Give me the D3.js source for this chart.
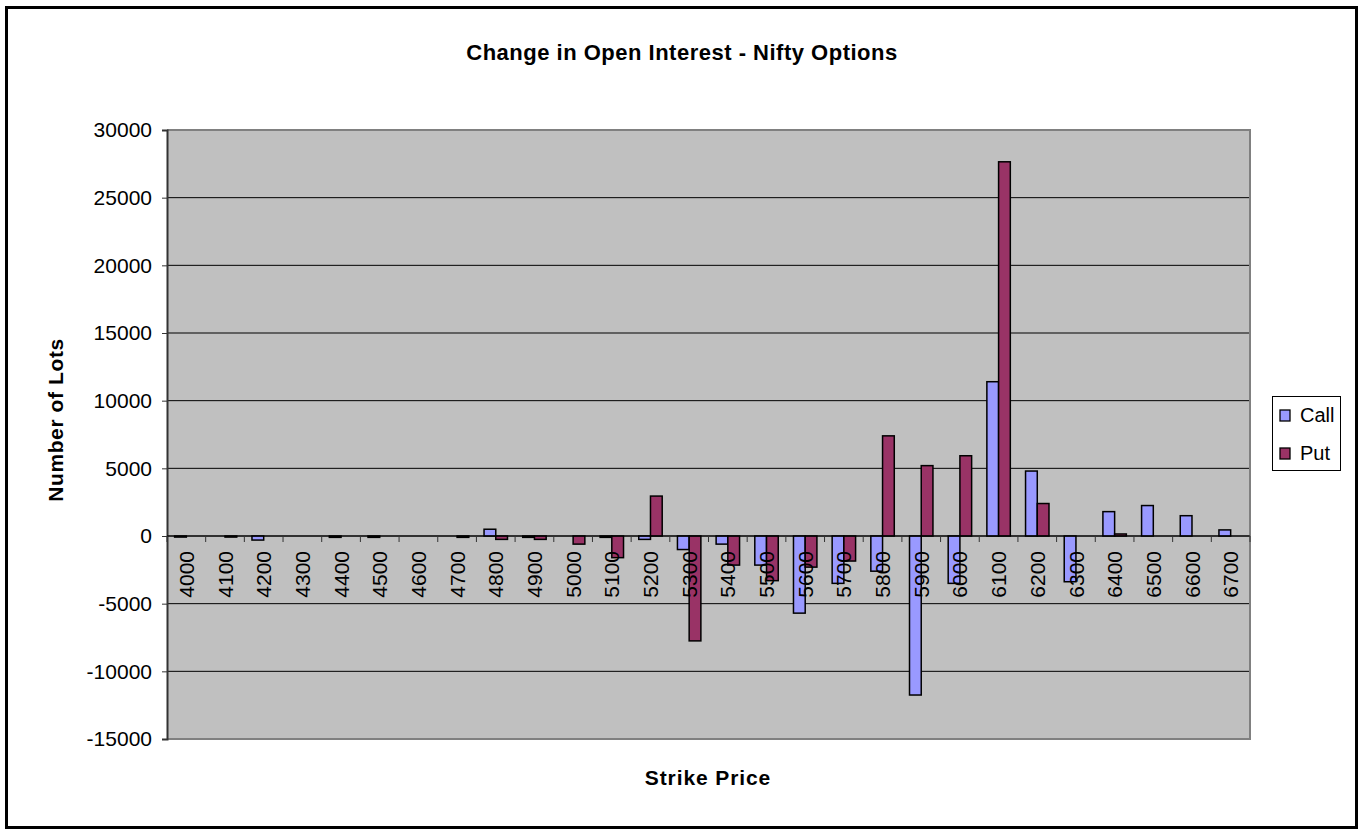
<!DOCTYPE html>
<html>
<head>
<meta charset="utf-8">
<script src="https://cdn.jsdelivr.net/npm/d3@7"></script>
<style>
  body { margin: 0; background: #fff; }
  svg { display: block; font-family: "Liberation Sans", Arial, sans-serif; }
</style>
</head>
<body>
<svg id="chart" width="1361" height="831"></svg>
<script>
// Strike prices (categories)
const strikes = [4000, 4100, 4200, 4300, 4400, 4500, 4600, 4700, 4800, 4900,
  5000, 5100, 5200, 5300, 5400, 5500, 5600, 5700, 5800, 5900,
  6000, 6100, 6200, 6300, 6400, 6500, 6600, 6700]

// Change in OI, number of lots
const callValues = [-80, 0, -300, 0, -100, -100, 0, 0, 500, -100,
  0, -100, -250, -1000, -600, -2150, -5700, -3500, -2600, -11750,
  -3500, 11400, 4800, -3380, 1800, 2250, 1500, 450]
const putValues = [0, -80, 0, 0, 0, 0, 0, -100, -250, -250,
  -600, -1600, 2950, -7750, -2150, -3300, -2300, -1850, 7400, 5200,
  5930, 27650, 2400, 0, 150, 0, 0, 0]

const seriesNames = ['Call', 'Put']
const yTicks = [-15000, -10000, -5000, 0, 5000, 10000, 15000, 20000, 25000, 30000]

const colors = { Call: '#9999FF', Put: '#993366' }

const svg = d3.select('#chart')

// outer chart frame
svg.append('rect')
  .attr('x', 6.5).attr('y', 7.5)
  .attr('width', 1350).attr('height', 820)
  .attr('fill', '#fff')
  .attr('stroke', '#000')
  .attr('stroke-width', 3)

const plot = { left: 167, right: 1250, top: 130, bottom: 739 }

const x = d3.scaleBand()
  .domain(strikes)
  .range([plot.left, plot.right])
  .padding(0)

const xSub = d3.scaleBand()
  .domain(seriesNames)
  .range([0, x.bandwidth()])
  .paddingInner(0)
  .paddingOuter(0.65)

const y = d3.scaleLinear()
  .domain([-15000, 30000])
  .range([plot.bottom, plot.top])

// plot area background
svg.append('rect')
  .attr('x', plot.left).attr('y', plot.top)
  .attr('width', plot.right - plot.left)
  .attr('height', plot.bottom - plot.top)
  .attr('fill', '#C0C0C0')

// gridlines
svg.append('g')
  .selectAll('line')
  .data(yTicks.filter(d => d !== -15000 && d !== 30000))
  .enter()
  .append('line')
  .attr('x1', plot.left).attr('x2', plot.right)
  .attr('y1', d => y(d)).attr('y2', d => y(d))
  .attr('stroke', '#000')
  .attr('stroke-width', 1)

// plot border (top/right/bottom grey)
svg.append('path')
  .attr('d', `M${plot.left},${plot.top}H${plot.right}V${plot.bottom}H${plot.left}`)
  .attr('fill', 'none')
  .attr('stroke', '#808080')
  .attr('stroke-width', 2)

// bars
const rows = strikes.map((s, i) => ({ strike: s, Call: callValues[i], Put: putValues[i] }))

const groups = svg.append('g')
  .selectAll('g')
  .data(rows)
  .enter()
  .append('g')
  .attr('transform', d => `translate(${x(d.strike)},0)`)

groups.selectAll('rect')
  .data(d => seriesNames.map(k => ({ key: k, value: d[k] })).filter(e => e.value !== 0))
  .enter()
  .append('rect')
  .attr('x', d => xSub(d.key))
  .attr('width', xSub.bandwidth())
  .attr('y', d => Math.min(y(d.value), y(0)))
  .attr('height', d => Math.abs(y(d.value) - y(0)))
  .attr('fill', d => colors[d.key])
  .attr('stroke', '#000')
  .attr('stroke-width', 1.5)

// y axis
const yAxis = d3.axisLeft(y)
  .tickValues(yTicks)
  .tickSize(5)
  .tickPadding(10)
  .tickFormat(d => String(d))

const yAxisG = svg.append('g')
  .attr('transform', `translate(${plot.left},0)`)
  .call(yAxis)
yAxisG.select('.domain').attr('stroke', '#333').attr('stroke-width', 2)
yAxisG.selectAll('.tick line').attr('stroke', '#333')
yAxisG.selectAll('.tick text')
  .attr('font-family', '"Liberation Sans", Arial, sans-serif')
  .attr('font-size', 21)
  .attr('fill', '#000')

// x axis along zero line
const zeroY = y(0)
svg.append('line')
  .attr('x1', plot.left).attr('x2', plot.right)
  .attr('y1', zeroY).attr('y2', zeroY)
  .attr('stroke', '#000')
  .attr('stroke-width', 1.2)

const boundaries = strikes.map(s => x(s)).concat([plot.right])
svg.append('g')
  .selectAll('line')
  .data(boundaries)
  .enter()
  .append('line')
  .attr('x1', d => d).attr('x2', d => d)
  .attr('y1', zeroY).attr('y2', zeroY + 6)
  .attr('stroke', '#333')
  .attr('stroke-width', 1)

svg.append('g')
  .selectAll('text')
  .data(strikes)
  .enter()
  .append('text')
  .attr('transform', d => `translate(${x(d) + x.bandwidth() / 2},${zeroY + 15}) rotate(-90)`)
  .attr('text-anchor', 'end')
  .attr('dy', '0.36em')
  .attr('font-size', 21)
  .attr('fill', '#000')
  .text(d => d)

// titles
svg.append('text')
  .attr('x', 682).attr('y', 60)
  .attr('text-anchor', 'middle')
  .attr('font-size', 22)
  .attr('font-weight', 'bold')
  .attr('letter-spacing', 0.5)
  .text('Change in Open Interest - Nifty Options')

svg.append('text')
  .attr('x', 708).attr('y', 785)
  .attr('text-anchor', 'middle')
  .attr('font-size', 21)
  .attr('font-weight', 'bold')
  .attr('letter-spacing', 0.9)
  .text('Strike Price')

svg.append('text')
  .attr('transform', 'translate(63,420) rotate(-90)')
  .attr('text-anchor', 'middle')
  .attr('font-size', 21)
  .attr('font-weight', 'bold')
  .attr('letter-spacing', 0.6)
  .text('Number of Lots')

// legend
const legend = svg.append('g')
legend.append('rect')
  .attr('x', 1272.5).attr('y', 396.5)
  .attr('width', 68).attr('height', 74)
  .attr('fill', '#fff')
  .attr('stroke', '#000')
  .attr('stroke-width', 1)

const legendItems = legend.selectAll('g')
  .data(seriesNames)
  .enter()
  .append('g')
  .attr('transform', (d, i) => `translate(1280,${410 + i * 38})`)

legendItems.append('rect')
  .attr('width', 10).attr('height', 11)
  .attr('fill', d => colors[d])
  .attr('stroke', '#000')
  .attr('stroke-width', 1.3)

legendItems.append('text')
  .attr('x', 20).attr('y', 12)
  .attr('font-size', 20)
  .attr('fill', '#000')
  .text(d => d)
</script>
</body>
</html>
